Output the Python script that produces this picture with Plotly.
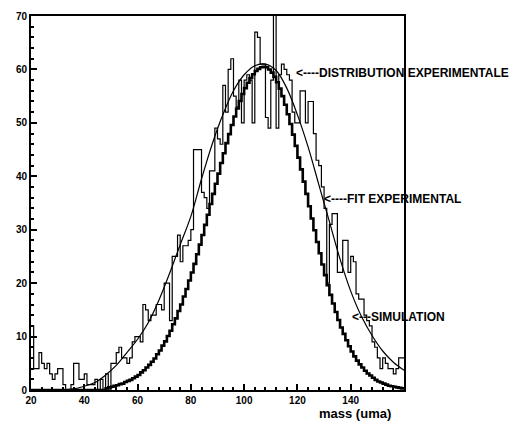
import plotly.graph_objects as go

# bin edges of the 1-uma histograms (20 .. 160)
bin_edges = list(range(20, 161))

# experimental distribution, counts per bin, mass 20..159
exp_counts = [
    12, 4, 4, 7, 5, 4, 5, 3, 2, 3,
    4, 4, 1, 0, 0, 1, 5, 5, 2, 2,
    3, 1, 1, 1, 2, 0, 2, 0, 3, 0,
    5, 5, 7, 8, 6, 6, 5, 6, 9, 10,
    10, 9, 16, 15, 13, 14, 14, 16, 16, 15,
    20, 20, 13, 25, 25, 29, 24, 27, 27, 28,
    30, 45, 45, 45, 37, 36, 34, 41, 41, 49,
    47, 46, 57, 52, 60, 62, 55, 53, 58, 50,
    58, 59, 58, 50, 67, 66, 61, 61, 51, 49,
    58, 72, 49, 59, 61, 60, 59, 58, 52, 50,
    50, 56, 56, 50, 54, 54, 48, 43, 42, 38,
    34, 20, 31, 33, 33, 22, 22, 28, 28, 22,
    25, 24, 18, 17, 17, 14, 13, 12, 9, 8,
    6, 4, 6, 5, 4, 4, 3, 4, 6, 6,
]

# simulation, counts per bin, mass 20..159
sim_counts = [
    0, 0, 0, 0, 0, 0, 0, 0, 0, 0,
    0, 0, 0, 0, 0, 0, 0, 0, 0, 0,
    0, 0, 0, 0, 0, 0, 0, 0, 0.3, 0.5,
    0.6, 0.8, 0.9, 1.1, 1.2, 1.5, 1.7, 1.9, 2.2, 2.5,
    2.8, 3.3, 3.7, 4.2, 4.7, 5.3, 5.9, 6.7, 7.4, 8.3,
    9.1, 10.1, 11.1, 12.3, 13.4, 14.8, 16.0, 17.5, 18.9, 20.5,
    22.0, 23.6, 25.4, 27.2, 29.0, 30.9, 32.8, 34.8, 36.7, 38.6,
    40.5, 42.5, 44.3, 46.2, 47.9, 49.6, 51.2, 52.7, 54.1, 55.4,
    56.5, 57.5, 58.4, 59.1, 59.7, 60.1, 60.4, 60.5, 60.4, 60.0,
    59.4, 58.6, 57.6, 56.4, 55.0, 53.4, 51.6, 49.8, 47.8, 45.7,
    43.5, 41.3, 39.0, 36.7, 34.4, 32.1, 29.9, 27.7, 25.6, 23.5,
    21.5, 19.6, 17.8, 16.2, 14.6, 13.1, 11.7, 10.5, 9.3, 8.2,
    7.2, 6.3, 5.5, 4.8, 4.2, 3.6, 3.1, 2.7, 2.3, 1.9,
    1.6, 1.4, 1.2, 1.0, 0.8, 0.7, 0.6, 0.5, 0.4, 0.3,
]

# gaussian fit of the experimental distribution
fit_mass = [32, 36, 40, 44, 48, 52, 56, 60, 64, 68, 72, 76, 80, 84, 88, 92, 96,
            100, 104, 108, 112, 116, 120, 124, 128, 132, 136, 140, 144, 148, 152, 156, 160]
fit_vals = [0.05, 0.2, 0.7, 1.4, 2.8, 4.6, 7.0, 9.5, 12.6, 16.8, 21.8, 27.2, 32.5, 39.5, 46.0, 51.5, 56.0,
            59.0, 60.7, 61.0, 59.8, 56.5, 51.5, 45.5, 38.5, 31.5, 24.5, 18.5, 13.8, 10.2, 7.3, 5.2, 3.7]

x_ticks = [20, 40, 60, 80, 100, 120, 140]
y_ticks = [0, 10, 20, 30, 40, 50, 60, 70]

labels = ['<----DISTRIBUTION EXPERIMENTALE', '<----FIT EXPERIMENTAL', '<---SIMULATION']
label_x = [118.6, 129.1, 139.6]
label_y = [59.3, 35.7, 13.6]

fig = go.Figure()

fig.add_trace(go.Scatter(x=bin_edges, y=exp_counts + [exp_counts[-1]], mode='lines',
                         line=dict(shape='hv', color='black', width=1.2)))
fig.add_trace(go.Scatter(x=bin_edges, y=sim_counts + [sim_counts[-1]], mode='lines',
                         line=dict(shape='hv', color='black', width=2.6)))
fig.add_trace(go.Scatter(x=fit_mass, y=fit_vals, mode='lines',
                         line=dict(shape='spline', color='black', width=1.2)))

for t, lx, ly in zip(labels, label_x, label_y):
    fig.add_annotation(x=lx, y=ly, text=t, showarrow=False, xanchor='left', yanchor='middle',
                       font=dict(family='Liberation Sans', size=12, color='black', weight='bold'))

fig.add_annotation(x=0.868, y=-0.062, xref='paper', yref='paper', text='mass (uma)', showarrow=False,
                   xanchor='center', yanchor='middle',
                   font=dict(family='Liberation Sans', size=13, color='black', weight='bold'))

axis_style = dict(showline=True, linecolor='black', linewidth=2, mirror=True, showgrid=False,
                  zeroline=False, ticks='inside', ticklen=6, tickcolor='black', tickwidth=1.5,
                  automargin=False,
                  tickfont=dict(family='Liberation Sans', size=10, color='black', weight='bold'))

fig.update_xaxes(range=[20, 160], tickvals=x_ticks,
                 minor=dict(dtick=4, tick0=20, ticks='inside', ticklen=3, tickcolor='black'),
                 **axis_style)
fig.update_yaxes(range=[0, 70], tickvals=y_ticks,
                 minor=dict(dtick=2, tick0=0, ticks='inside', ticklen=3, tickcolor='black'),
                 **axis_style)

# page body adds an 8px offset, so the figure is 8px smaller and margins shifted
fig.update_layout(width=511, height=415, showlegend=False,
                  margin=dict(l=23, r=115, t=8, b=33),
                  plot_bgcolor='white', paper_bgcolor='white')

fig.write_html('out.html')
